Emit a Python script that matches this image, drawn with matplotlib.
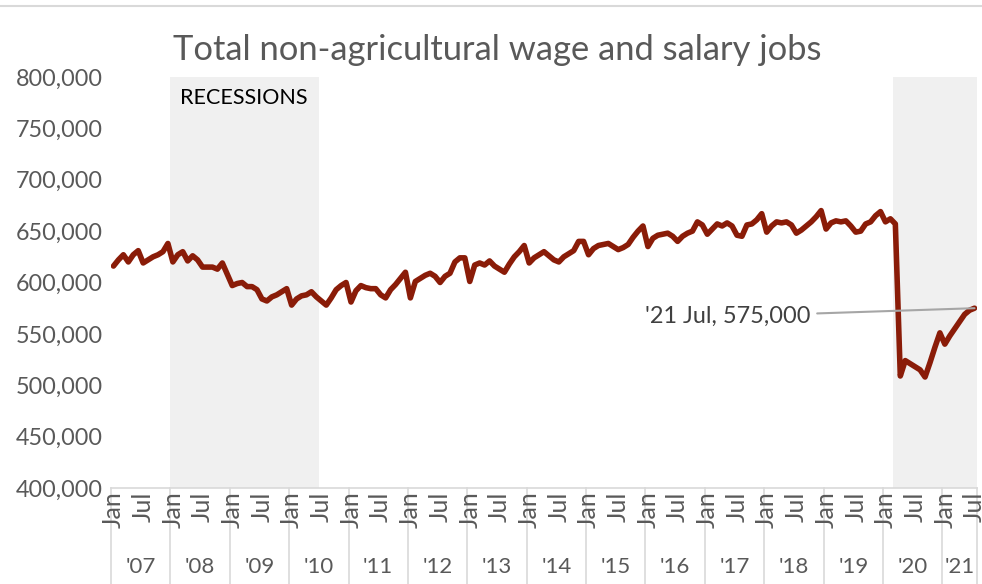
import matplotlib
matplotlib.use("Agg")
import matplotlib.pyplot as plt
import matplotlib.transforms as mtransforms
from matplotlib.lines import Line2D

plt.rcParams['font.family'] = ['Lato', 'DejaVu Sans']

# monthly jobs, Jan 2007 .. Jul 2021 (thousands)
years = list(range(2007, 2022))
jobs_k = [
    616, 622, 627, 620, 627, 631, 619, 622, 625, 627, 630, 638,   # 2007
    620, 627, 630, 621, 626, 622, 615, 615, 615, 613, 619, 608,   # 2008
    597, 599, 600, 596, 596, 593, 584, 582, 586, 588, 591, 594,   # 2009
    578, 584, 587, 588, 591, 586, 582, 578, 585, 593, 597, 600,   # 2010
    581, 592, 597, 595, 594, 594, 588, 585, 593, 598, 604, 610,   # 2011
    585, 601, 604, 607, 609, 606, 600, 606, 609, 620, 624, 624,   # 2012
    601, 617, 619, 617, 621, 616, 613, 610, 618, 625, 630, 636,   # 2013
    619, 624, 627, 630, 626, 622, 620, 625, 628, 631, 640, 640,   # 2014
    627, 633, 636, 637, 638, 635, 632, 634, 637, 644, 650, 655,   # 2015
    635, 643, 646, 647, 648, 645, 640, 645, 648, 650, 659, 656,   # 2016
    647, 652, 657, 655, 658, 655, 646, 645, 656, 657, 661, 667,   # 2017
    649, 655, 659, 658, 659, 656, 648, 651, 655, 659, 664, 670,   # 2018
    652, 658, 660, 659, 660, 655, 649, 650, 657, 659, 665, 669,   # 2019
    659, 662, 657, 509, 524, 521, 518, 515, 508, 522, 537, 551,   # 2020
    540, 548, 555, 562, 569, 573, 575,                            # 2021
]
# recession shading, (year, month) start and end
recessions = [((2008, 1), (2010, 6)), ((2020, 3), (2021, 7))]
yticks = [400000, 450000, 500000, 550000, 600000, 650000, 700000, 750000, 800000]

jobs = [v * 1000 for v in jobs_k]
months = list(range(len(jobs)))


def idx(y, m):
    return (y - 2007) * 12 + (m - 1)


fig = plt.figure(figsize=(9.82, 5.84), dpi=100)
ax = fig.add_axes([111 / 982, 1 - 488 / 584, 866 / 982, 411 / 584])

for (y0, m0), (y1, m1) in recessions:
    ax.axvspan(idx(y0, m0) - 0.5, idx(y1, m1) + 0.5, color='#F0F0F0', lw=0, zorder=0)

ax.plot(months, jobs, color='#8A1C08', lw=4, solid_joinstyle='round',
        solid_capstyle='round', zorder=3)

ax.set_xlim(-0.5, len(jobs) - 0.5)
ax.set_ylim(400000, 800000)
ax.set_yticks(yticks)
ax.set_yticklabels([f'{v:,}' for v in yticks])
ax.tick_params(axis='y', length=0, pad=6, labelsize=16.8, labelcolor='#595959')

for s in ['left', 'right', 'top']:
    ax.spines[s].set_visible(False)
ax.spines['bottom'].set_color('#D9D9D9')
ax.spines['bottom'].set_linewidth(1.2)

ax.set_xticks([])

# month labels (Jan / Jul), year labels and dividers
trans = mtransforms.blended_transform_factory(ax.transData, ax.transAxes)
for i in months:
    if i % 12 in (0, 6):
        ax.text(i, -0.008, 'Jan' if i % 12 == 0 else 'Jul', transform=trans,
                rotation=90, ha='center', va='top', color='#595959', fontsize=18,
                clip_on=False)
for k, yr in enumerate(years):
    start = k * 12 - 0.5
    end = min(start + 12, len(jobs) - 0.5)
    ax.add_line(Line2D([start, start], [0, -0.24], transform=trans, color='#D9D9D9',
                       lw=1.2, clip_on=False))
    ax.text((start + end) / 2, -0.193, "'" + str(yr)[2:], transform=trans,
            ha='center', va='center', color='#595959', fontsize=16)
ax.add_line(Line2D([len(jobs) - 0.5] * 2, [0, -0.24], transform=trans, color='#D9D9D9',
                   lw=1.2, clip_on=False))

ax.text(idx(2008, 3) - 0.5, 780000, 'RECESSIONS', color='black', fontsize=15.5,
        va='center', ha='left')

# last value callout
last = len(jobs) - 1
ax.annotate(f"'21 Jul, {jobs[last]:,}", xy=(last, jobs[last]), xytext=(140.8, 567000),
            ha='right', va='center', color='#404040', fontsize=16.9,
            arrowprops=dict(arrowstyle='-', color='#A6A6A6', lw=1.5, shrinkA=3, shrinkB=0))

fig.text(0.506, 1 - 50 / 584, 'Total non-agricultural wage and salary jobs',
         ha='center', va='center', color='#595959', fontsize=24.8)
fig.add_artist(Line2D([0, 1], [1 - 6 / 584] * 2, color='#D9D9D9', lw=1.5))

fig.savefig('out.png', dpi=100)
